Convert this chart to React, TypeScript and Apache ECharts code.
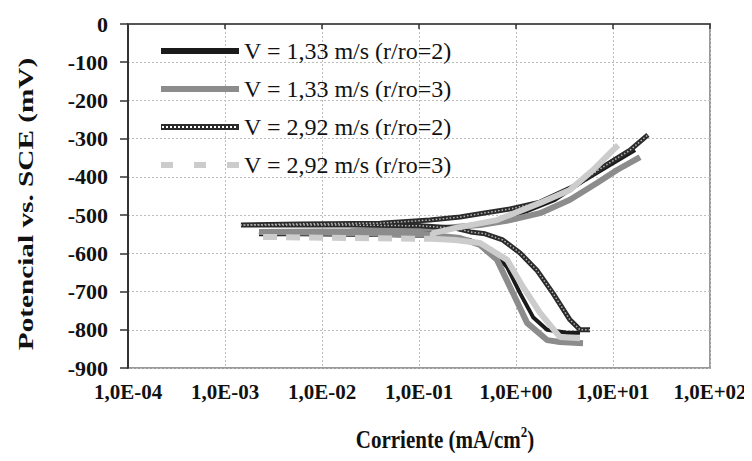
import React, { useEffect, useRef } from "react";
import * as echarts from "echarts";

// Tick labels / axis ranges
const xTickExponents = [-4, -3, -2, -1, 0, 1, 2];
const yTicks = [0, -100, -200, -300, -400, -500, -600, -700, -800, -900];

const seriesNames = [
  "V = 1,33 m/s (r/ro=2)",
  "V = 1,33 m/s (r/ro=3)",
  "V = 2,92 m/s (r/ro=2)",
  "V = 2,92 m/s (r/ro=3)",
];

// Current density (mA/cm2) and potential (mV)
const s1Current = [4.57, 3.36, 2.09, 1.5, 1.1, 0.81, 0.566, 0.336, 0.164, 0.04, 0.0059, 0.00224, 0.0059, 0.0637, 0.209, 0.426, 1.1, 2.52, 5.14, 9.3, 16.9];
const s1Potential = [-808, -808, -800, -767, -704, -636, -591, -565, -555, -552, -550, -550, -547, -544, -536, -526, -497, -460, -408, -369, -330];

const s2Current = [4.91, 2.84, 2.09, 1.3, 0.93, 0.637, 0.426, 0.265, 0.13, 0.0195, 0.00224, 0.0195, 0.13, 0.426, 0.87, 1.77, 3.6, 6.84, 11, 19];
const s2Potential = [-835, -832, -827, -782, -704, -617, -578, -560, -552, -547, -544, -542, -536, -526, -513, -495, -460, -416, -382, -348];

const s3Current = [5.8, 4.57, 3.6, 2.4, 1.64, 1.1, 0.73, 0.48, 0.34, 0.235, 0.102, 0.0195, 0.0059, 0.00146, 0.0059, 0.04, 0.13, 0.265, 0.457, 0.87, 1.77, 3.87, 7.9, 15, 22.9];
const s3Potential = [-800, -800, -774, -704, -644, -599, -565, -549, -544, -534, -528, -526, -526, -526, -523, -521, -513, -505, -495, -484, -466, -426, -374, -330, -290];

// light grey series: flat (dashed) part and branches
const s4FlatCurrent = [0.00247, 0.0195, 0.139];
const s4FlatPotential = [-557, -560, -562];
const s4Current = [4.57, 2.84, 1.77, 1.18, 0.81, 0.426, 0.235, 0.139, 0.139, 0.235, 0.637, 1.77, 3.6, 6.22, 9.3, 11.3];
const s4Potential = [-822, -819, -756, -688, -617, -573, -565, -562, -547, -534, -513, -468, -434, -382, -338, -317];

const pairs = (xs: number[], ys: number[]) => xs.map((x, i) => [x, ys[i]]);

const FONT = "'Liberation Serif', 'Times New Roman', serif";

// legend icons
const chainIcon = (() => {
  let d = "path://M0,0H78V6H0Z";
  for (let x = 1; x + 2 <= 78; x += 4) d += `M${x},2V4H${x + 2}V2Z`;
  return d;
})();
const dashIcon = "path://M0,0H12V6H0Z M33,0H45V6H33Z M66,0H78V6H66Z";

export default function App() {
  const ref = useRef<HTMLDivElement>(null);
  useEffect(() => {
    if (!ref.current) return;
    const chart = echarts.init(ref.current, null, { renderer: "svg" });
    const xFmt = (v: number) => {
      const e = Math.round(Math.log10(v));
      return "1,0E" + (e < 0 ? "-" : "+") + String(Math.abs(e)).padStart(2, "0");
    };
    chart.setOption({
      animation: false,
      backgroundColor: "#fff",
      grid: {
        left: 128,
        right: 42,
        top: 24,
        bottom: 93,
        show: true,
        borderColor: "#9a9a9a",
        borderWidth: 2,
      },
      legend: {
        orient: "vertical",
        left: 156,
        top: 34,
        itemWidth: 78,
        itemHeight: 6,
        itemGap: 14,
        selectedMode: false,
        textStyle: { fontFamily: FONT, fontSize: 24, color: "#111" },
        data: [
          { name: seriesNames[0], icon: "rect", itemStyle: { color: "#1a1a1a", borderWidth: 0 } },
          { name: seriesNames[1], icon: "rect", itemStyle: { color: "#8c8c8c", borderWidth: 0 } },
          { name: seriesNames[2], icon: chainIcon, itemStyle: { color: "#2b2b2b", borderWidth: 0 } },
          { name: seriesNames[3], icon: dashIcon, itemStyle: { color: "#cccccc", borderWidth: 0 } },
        ],
      },
      xAxis: {
        type: "log",
        logBase: 10,
        min: Math.pow(10, xTickExponents[0]),
        max: Math.pow(10, xTickExponents[xTickExponents.length - 1]),
        splitNumber: 6,
        axisLine: { lineStyle: { color: "#555", width: 2 } },
        axisTick: { show: true, length: 5, lineStyle: { color: "#333", width: 1.5 } },
        minorTick: { show: false },
        axisLabel: {
          formatter: xFmt,
          fontFamily: FONT,
          fontWeight: "bold",
          fontSize: 21,
          color: "#111",
          margin: 13,
        },
        splitLine: { show: true, lineStyle: { color: "#bdbdbd", type: [2, 2], width: 1 } },
      },
      yAxis: {
        type: "value",
        min: yTicks[yTicks.length - 1],
        max: yTicks[0],
        interval: 100,
        axisLine: { show: true, lineStyle: { color: "#333", width: 2 } },
        axisTick: { show: true, length: 8, lineStyle: { color: "#333", width: 1.5 } },
        axisLabel: {
          fontFamily: FONT,
          fontWeight: "bold",
          fontSize: 22,
          color: "#111",
          margin: 20,
        },
        splitLine: { show: true, lineStyle: { color: "#bdbdbd", type: [2, 2], width: 1 } },
      },
      graphic: [
        {
          type: "text",
          x: 26,
          y: 204,
          rotation: Math.PI / 2,
          scaleX: 1.33,
          style: {
            text: "Potencial vs. SCE (mV)",
            fontFamily: FONT,
            fontWeight: "bold",
            fontSize: 22,
            fill: "#111",
            align: "center",
            verticalAlign: "middle",
          },
        },
        {
          type: "text",
          x: 445,
          y: 440,
          scaleY: 1.15,
          style: {
            text: "{a|Corriente (mA/cm}{s|2}{a|)}",
            align: "center",
            verticalAlign: "middle",
            fill: "#111",
            rich: {
              a: { fontFamily: FONT, fontWeight: "bold", fontSize: 21, fill: "#111" },
              s: { fontFamily: FONT, fontWeight: "bold", fontSize: 13, fill: "#111", padding: [0, 0, 14, 0] },
            },
          },
        },
      ],
      series: [
        {
          name: seriesNames[0],
          type: "line",
          showSymbol: false,
          data: pairs(s1Current, s1Potential),
          lineStyle: { color: "#1a1a1a", width: 4 },
          itemStyle: { color: "#1a1a1a" },
        },
        {
          name: seriesNames[1],
          type: "line",
          showSymbol: false,
          data: pairs(s2Current, s2Potential),
          lineStyle: { color: "#8c8c8c", width: 6 },
          itemStyle: { color: "#8c8c8c" },
        },
        {
          name: seriesNames[2],
          type: "line",
          showSymbol: false,
          data: pairs(s3Current, s3Potential),
          lineStyle: { color: "#2b2b2b", width: 5 },
          itemStyle: { color: "#2b2b2b" },
        },
        {
          name: seriesNames[2],
          type: "line",
          showSymbol: false,
          data: pairs(s3Current, s3Potential),
          lineStyle: { color: "#b5b5b5", width: 1.5, type: [1.5, 2] },
          itemStyle: { color: "#2b2b2b" },
        },
        {
          name: seriesNames[3],
          type: "line",
          showSymbol: false,
          data: pairs(s4FlatCurrent, s4FlatPotential),
          lineStyle: { color: "#cccccc", width: 6, type: [14, 9] },
          itemStyle: { color: "#cccccc" },
        },
        {
          name: seriesNames[3],
          type: "line",
          showSymbol: false,
          data: pairs(s4Current, s4Potential),
          lineStyle: { color: "#cccccc", width: 6 },
          itemStyle: { color: "#cccccc" },
        },
      ],
    });
    return () => chart.dispose();
  }, []);
  return <div ref={ref} style={{ width: 752, height: 461, margin: -8 }} />;
}
